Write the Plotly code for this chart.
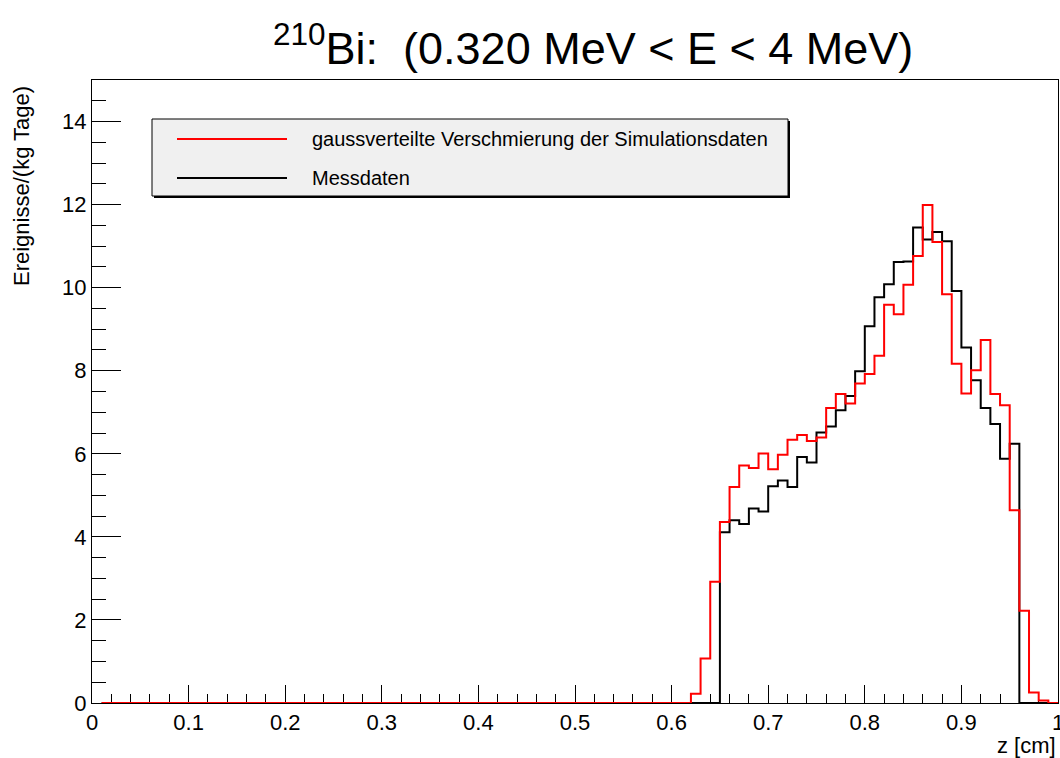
import numpy as np
import plotly.graph_objects as go

# Histogram binning (cm): 0.01 cm bins, drawn from z = 0.01 cm to 1.00 cm
bin_width = 0.01
z_start = 0.01
n_bins = 99

# Gaussian-smeared simulation, bins starting at z = 0.62 cm (zero below)
sim_first_bin = 0.62
sim_counts = [0.22, 1.07, 2.92, 4.36, 5.20, 5.72, 5.66, 6.01, 5.63, 5.98,
              6.34, 6.45, 6.31, 6.39, 7.10, 7.44, 7.21, 7.69, 7.92, 8.36,
              9.59, 9.36, 10.07, 10.76, 11.99, 11.10, 9.84, 8.17, 7.45, 8.01,
              8.74, 7.44, 7.17, 4.64, 2.22, 0.25, 0.06, 0.0]

# Measured data, bins starting at z = 0.65 cm (zero elsewhere)
meas_first_bin = 0.65
meas_counts = [4.11, 4.40, 4.31, 4.68, 4.61, 5.22, 5.36, 5.20, 5.92, 5.79,
               6.51, 6.66, 7.05, 7.39, 7.99, 9.07, 9.77, 10.08, 10.62, 10.63,
               11.45, 11.16, 11.34, 11.12, 9.92, 8.56, 7.77, 7.10, 6.72, 5.88,
               6.24]

x_tick_vals = [0, 0.1, 0.2, 0.3, 0.4, 0.5, 0.6, 0.7, 0.8, 0.9, 1.0]
x_tick_text = ["0", "0.1", "0.2", "0.3", "0.4", "0.5", "0.6", "0.7", "0.8", "0.9", "1"]

legend_labels = ["gaussverteilte Verschmierung der Simulationsdaten", "Messdaten"]

edges = z_start + bin_width * np.arange(n_bins + 1)


def full_hist(first_bin, counts):
    vals = np.zeros(n_bins)
    i0 = int(round((first_bin - z_start) / bin_width))
    vals[i0:i0 + len(counts)] = counts
    return vals


def step_xy(vals):
    # ROOT-style outline: horizontal steps over each bin, closed at both ends
    x = np.concatenate([[edges[0]], edges])
    y = np.concatenate([[0.0], vals, [0.0]])
    return x, y


W, H = 1060, 758
L, R, T, B = 92, 2, 80, 55
PW, PH = W - L - R, H - T - B


def px(xp):
    return (xp - L) / PW


def py(yp):
    return (H - B - yp) / PH


fig = go.Figure()

mx, my = step_xy(full_hist(meas_first_bin, meas_counts))
sx, sy = step_xy(full_hist(sim_first_bin, sim_counts))

fig.add_trace(go.Scatter(x=mx, y=my, mode="lines", line=dict(color="black", width=2, shape="hv"),
                         name=legend_labels[1], showlegend=False))
fig.add_trace(go.Scatter(x=sx, y=sy, mode="lines", line=dict(color="#ff0000", width=2, shape="hv"),
                         name=legend_labels[0], showlegend=False))

font_family = "Liberation Sans, Arial, sans-serif"

fig.update_xaxes(range=[0, 1], tickmode="array", tickvals=x_tick_vals, ticktext=x_tick_text,
                 ticks="inside", ticklen=18, tickwidth=1, tickcolor="black",
                 minor=dict(dtick=0.02, tick0=0, ticks="inside", ticklen=9, tickwidth=1, tickcolor="black"),
                 showline=True, linecolor="black", linewidth=1, mirror=True,
                 showgrid=False, zeroline=False, layer="below traces",
                 ticklabeloverflow="allow", automargin=False,
                 tickfont=dict(family=font_family, size=22, color="black"))
fig.update_yaxes(range=[0, 15], dtick=2, tick0=0,
                 ticks="inside", ticklen=29, tickwidth=1, tickcolor="black",
                 minor=dict(dtick=0.5, tick0=0, ticks="inside", ticklen=14, tickwidth=1, tickcolor="black"),
                 showline=True, linecolor="black", linewidth=1, mirror=True,
                 showgrid=False, zeroline=False, layer="below traces",
                 ticklabeloverflow="allow", automargin=False,
                 tickfont=dict(family=font_family, size=22, color="black"))

shapes = []
# legend shadow and box
bx0, bx1, by0, by1 = 152, 788, 119, 196
shapes.append(dict(type="rect", xref="paper", yref="paper", x0=px(bx0 + 2), x1=px(bx1 + 2),
                   y0=py(by1 + 2), y1=py(by0 + 2), line=dict(width=0), fillcolor="black", layer="above"))
shapes.append(dict(type="rect", xref="paper", yref="paper", x0=px(bx0), x1=px(bx1),
                   y0=py(by1), y1=py(by0), line=dict(color="black", width=1), fillcolor="#f0f0f0", layer="above"))
legend_rows = [(139, "#ff0000"), (178, "black")]
for yrow, col in legend_rows:
    shapes.append(dict(type="line", xref="paper", yref="paper", x0=px(177), x1=px(287),
                       y0=py(yrow), y1=py(yrow), line=dict(color=col, width=2), layer="above"))

annotations = []
for (yrow, col), lab in zip(legend_rows, legend_labels):
    annotations.append(dict(x=px(310), y=py(yrow), xref="paper", yref="paper", text=lab,
                            showarrow=False, xanchor="left", yanchor="middle",
                            font=dict(family=font_family, size=20, color="black")))

annotations.append(dict(x=px(593), y=py(45), xref="paper", yref="paper",
                        text="<sup>210</sup>Bi:  (0.320 MeV < E < 4 MeV)",
                        showarrow=False, xanchor="center", yanchor="middle",
                        font=dict(family=font_family, size=45, color="black")))
annotations.append(dict(x=px(1058), y=py(745), xref="paper", yref="paper", text="z [cm]",
                        showarrow=False, xanchor="right", yanchor="middle",
                        font=dict(family=font_family, size=22, color="black")))
annotations.append(dict(x=px(22), y=py(84), xref="paper", yref="paper", text="Ereignisse/(kg Tage)",
                        showarrow=False, xanchor="center", yanchor="top", textangle=-90,
                        font=dict(family=font_family, size=22, color="black")))

fig.update_layout(width=W, height=H, margin=dict(l=L, r=R, t=T, b=B, autoexpand=False),
                  paper_bgcolor="white", plot_bgcolor="white",
                  shapes=shapes, annotations=annotations, showlegend=False)

fig.write_html("out.html")
